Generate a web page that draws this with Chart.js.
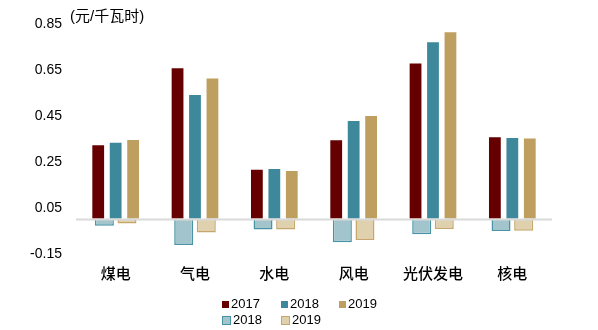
<!DOCTYPE html>
<html>
<head>
<meta charset="utf-8">
<script src="https://cdn.jsdelivr.net/npm/chart.js@4/dist/chart.umd.min.js"></script>
<style>
  html, body { margin: 0; padding: 0; background: #fff; }
  #wrap { position: relative; width: 598px; height: 330px; }
  #wrap canvas { position: absolute; left: 0; top: 0; }
  #unit { position: absolute; left: 70px; top: 7px; font: 15px "Liberation Sans", "Noto Sans CJK SC", sans-serif; color: #000; line-height: 18px; }
  .lg { position: absolute; font: 13px "Liberation Sans", Arial, sans-serif; color: #000; line-height: 14px; display: flex; align-items: center; }
  .sw { display: inline-block; box-sizing: border-box; margin-right: 2px; }
</style>
</head>
<body>
<div id="wrap">
  <canvas id="c1" width="598" height="330"></canvas>
  <canvas id="c2" width="598" height="330"></canvas>
  <div id="unit">(元/千瓦时)</div>
</div>
<script>
const categories = ['煤电', '气电', '水电', '风电', '光伏发电', '核电'];
const yTicks = [-0.15, 0.05, 0.25, 0.45, 0.65, 0.85];
const v2017 = [0.327, 0.662, 0.221, 0.349, 0.683, 0.362];
const v2018 = [0.338, 0.546, 0.224, 0.433, 0.775, 0.359];
const v2019 = [0.350, 0.617, 0.215, 0.454, 0.818, 0.357];
const n2018 = [-0.027, -0.111, -0.043, -0.099, -0.064, -0.050];
const n2019 = [-0.017, -0.056, -0.043, -0.089, -0.041, -0.049];

const posOpts = { categoryPercentage: 0.66, barPercentage: 0.79, borderWidth: 1, borderSkipped: false };
const negOpts = { categoryPercentage: 0.57, barPercentage: 0.84, borderWidth: 1.5 };

const posSets = [
  Object.assign({ label: '2017', data: v2017, backgroundColor: '#660000', borderColor: 'rgba(255,255,255,0.45)' }, posOpts),
  Object.assign({ label: '2018', data: v2018, backgroundColor: '#3d889a', borderColor: 'rgba(255,255,255,0.45)' }, posOpts),
  Object.assign({ label: '2019', data: v2019, backgroundColor: '#bf9f5f', borderColor: 'rgba(255,255,255,0.45)' }, posOpts)
];
const negSets = [
  Object.assign({ label: '2018', data: n2018, backgroundColor: '#a2c4cd', borderColor: '#4a93a4' }, negOpts),
  Object.assign({ label: '2019', data: n2019, backgroundColor: '#dfd0ae', borderColor: '#c6a66a' }, negOpts)
];

const zeroLine = {
  id: 'zeroLine',
  afterDatasetsDraw(chart) {
    const { ctx, chartArea, scales } = chart;
    const y = scales.y.getPixelForValue(0);
    ctx.save();
    ctx.strokeStyle = '#d9d9d9';
    ctx.lineWidth = 2;
    ctx.beginPath();
    ctx.moveTo(chartArea.left, y);
    ctx.lineTo(chartArea.right, y);
    ctx.stroke();
    ctx.restore();
  }
};

function makeOptions(textColor) {
  return {
    responsive: false,
    animation: false,
    layout: { padding: { top: 24, right: 46, left: 0, bottom: 0 } },
    plugins: { legend: { display: false }, tooltip: { enabled: false } },
    scales: {
      x: {
        grid: { display: false, drawTicks: false },
        border: { display: false },
        ticks: { color: textColor, font: { family: '"Noto Sans CJK SC", sans-serif', size: 15, weight: '500' }, padding: 10 },
        afterFit(s) { s.height = 76; }
      },
      y: {
        min: -0.15, max: 0.85,
        grid: { display: false, drawTicks: false },
        border: { display: false },
        afterBuildTicks(s) { s.ticks = yTicks.map(v => ({ value: v })); },
        ticks: {
          color: textColor,
          padding: 14,
          font: { family: '"Liberation Sans", Arial, sans-serif', size: 14 },
          callback: v => v.toFixed(2)
        },
        afterFit(s) { s.width = 76; }
      }
    }
  };
}

new Chart(document.getElementById('c1'), {
  type: 'bar',
  data: { labels: categories, datasets: posSets },
  options: makeOptions('#000')
});
new Chart(document.getElementById('c2'), {
  type: 'bar',
  data: { labels: categories, datasets: negSets },
  plugins: [zeroLine],
  options: makeOptions('rgba(0,0,0,0)')
});

// Legend built from the datasets
const wrap = document.getElementById('wrap');
const allSets = posSets.concat(negSets);
const legendPos = [[222, 297], [281, 297], [339, 297], [222, 313], [281, 313]];
allSets.forEach((d, i) => {
  const el = document.createElement('div');
  el.className = 'lg';
  el.style.left = legendPos[i][0] + 'px';
  el.style.top = legendPos[i][1] + 'px';
  const sw = document.createElement('span');
  sw.className = 'sw';
  const neg = i >= 3;
  sw.style.width = neg ? '9px' : '7px';
  sw.style.height = neg ? '9px' : '7px';
  sw.style.background = d.backgroundColor;
  if (neg) sw.style.border = '1.5px solid ' + d.borderColor;
  el.appendChild(sw);
  el.appendChild(document.createTextNode(d.label));
  wrap.appendChild(el);
});
</script>
</body>
</html>
